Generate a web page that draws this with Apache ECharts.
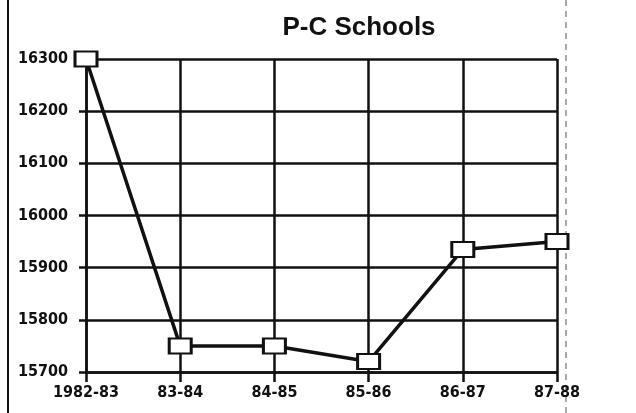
<!DOCTYPE html>
<html>
<head>
<meta charset="utf-8">
<script src="https://cdn.jsdelivr.net/npm/echarts@6/dist/echarts.min.js"></script>
<style>
  html, body { margin: 0; padding: 0; background: #fff; }
  #chart { width: 636px; height: 413px; }
</style>
</head>
<body>
<div id="chart"></div>
<script>
// School years and P-C Schools enrollment
const years = ['1982-83', '83-84', '84-85', '85-86', '86-87', '87-88'];
const enrollment = [16300, 15750, 15750, 15720, 15935, 15950];
const yTicks = { min: 15700, max: 16300, step: 100 };

const ink = '#111';
const labelFont = {
  fontFamily: 'DejaVu Sans Condensed',
  fontWeight: 'bold',
  fontSize: 16,
  color: ink
};

const chart = echarts.init(document.getElementById('chart'), null, { renderer: 'canvas' });
chart.setOption({
  animation: false,
  backgroundColor: '#fff',
  title: {
    text: 'P-C Schools',
    left: 354,
    top: 10,
    textAlign: 'center',
    textStyle: {
      fontFamily: 'Liberation Sans',
      fontWeight: 'bold',
      fontSize: 26,
      color: ink
    }
  },
  grid: { left: 86, right: 79, top: 59, bottom: 41 },
  xAxis: {
    type: 'category',
    data: years,
    boundaryGap: false,
    axisLine: { lineStyle: { color: ink, width: 2.5 } },
    axisTick: { show: true, length: 10, lineStyle: { color: ink, width: 2.5 } },
    splitLine: { show: true, lineStyle: { color: ink, width: 2.5 } },
    axisLabel: Object.assign({ margin: 13 }, labelFont)
  },
  yAxis: {
    type: 'value',
    min: yTicks.min,
    max: yTicks.max,
    interval: yTicks.step,
    axisLine: { show: true, lineStyle: { color: ink, width: 2.5 } },
    axisTick: { show: true, length: 7, lineStyle: { color: ink, width: 2.5 } },
    splitLine: { show: true, lineStyle: { color: ink, width: 2.5 } },
    axisLabel: Object.assign({ margin: 18, formatter: v => String(v) }, labelFont)
  },
  series: [{
    type: 'line',
    data: enrollment,
    symbol: 'rect',
    symbolSize: [22, 15],
    lineStyle: { color: ink, width: 3.5 },
    itemStyle: { color: '#fff', borderColor: ink, borderWidth: 2.5 },
    z: 5
  }],
  graphic: [
    // column rule at the left edge of the clipping
    { type: 'line', shape: { x1: 8, y1: 0, x2: 8, y2: 413 }, style: { stroke: ink, lineWidth: 2 } },
    // faint dotted fold line on the right
    { type: 'line', shape: { x1: 566, y1: 0, x2: 566, y2: 413 }, style: { stroke: '#555', lineWidth: 1, lineDash: [6, 5] } }
  ]
});
</script>
</body>
</html>
